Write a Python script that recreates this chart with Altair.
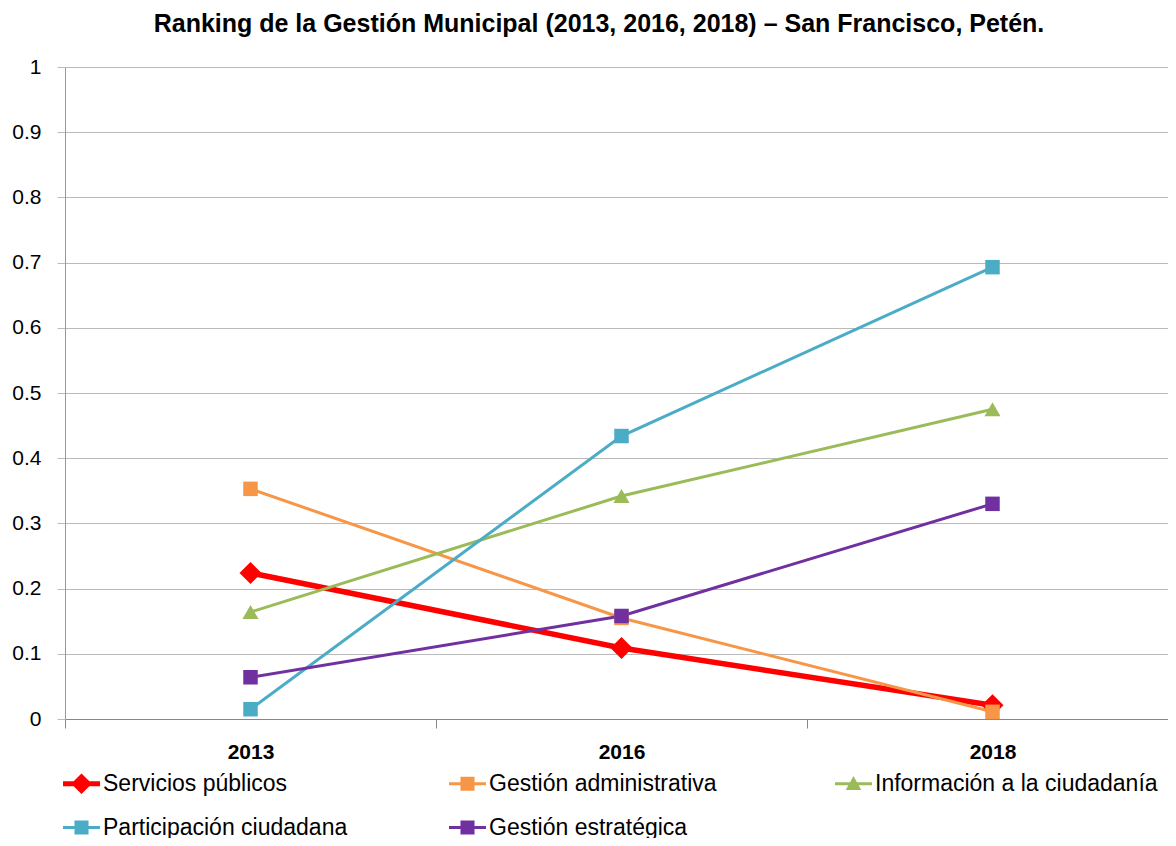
import altair as alt
import pandas as pd

years = ["2013", "2016", "2018"]
series_names = [
    "Servicios públicos",
    "Gestión administrativa",
    "Información a la ciudadanía",
    "Participación ciudadana",
    "Gestión estratégica",
]
servicios = [0.224, 0.109, 0.021]
gestion_adm = [0.353, 0.155, 0.011]
informacion = [0.164, 0.342, 0.475]
participacion = [0.015, 0.434, 0.693]
estrategica = [0.064, 0.158, 0.330]
y_ticks = [0, 0.1, 0.2, 0.3, 0.4, 0.5, 0.6, 0.7, 0.8, 0.9, 1]

colors = ["#FF0000", "#F79646", "#9BBB59", "#4BACC6", "#7030A0"]
markers = ["diamond", "square", "triangle-up", "square", "square"]
line_widths = [5.5, 3, 3, 3, 3]
marker_sizes = [484, 210, 260, 210, 210]
legend_paths = [
    "M-1,-0.14H1V0.14H-1Z M0,-0.56L0.56,0L0,0.56L-0.56,0Z",
    "M-1,-0.08H1V0.08H-1Z M-0.38,-0.38H0.38V0.38H-0.38Z",
    "M-1,-0.08H1V0.08H-1Z M0,-0.42L0.42,0.34L-0.42,0.34Z",
    "M-1,-0.08H1V0.08H-1Z M-0.38,-0.38H0.38V0.38H-0.38Z",
    "M-1,-0.08H1V0.08H-1Z M-0.38,-0.38H0.38V0.38H-0.38Z",
]

values = [servicios, gestion_adm, informacion, participacion, estrategica]
rows = []
for i, (name, vals) in enumerate(zip(series_names, values)):
    for yr, v in zip(years, vals):
        rows.append(dict(year=yr, value=v, series=name, marker=name, key=name, idx=i,
                         sw=line_widths[i], ms=marker_sizes[i]))
df = pd.DataFrame(rows)

FONT = "Liberation Sans"

x_enc = alt.X(
    "year:O",
    scale=alt.Scale(type="band", paddingInner=0, paddingOuter=0, range=[0, 1113]),
    axis=alt.Axis(
        title=None, tickBand="extent", labelAngle=0, labelFontWeight="bold",
        labelFontSize=21, labelFont=FONT, labelColor="#000", tickSize=9,
        tickColor="#888888", domainColor="#888888", labelPadding=13, grid=False,
    ),
)
y_enc = alt.Y(
    "value:Q",
    scale=alt.Scale(domain=[0, 1], nice=False),
    axis=alt.Axis(
        title=None, values=y_ticks, format=".1~f", grid=True, gridColor="#BBBBBB",
        ticks=True, tickSize=8, tickColor="#BBBBBB", domainColor="#999999",
        labelFontSize=21, labelFont=FONT, labelColor="#000", labelPadding=16,
    ),
)

legend = alt.Legend(
    title=None, orient="none", legendX=-2, legendY=698, columns=3,
    direction="horizontal", gridAlign="all", columnPadding=63, rowPadding=13,
    symbolSize=1369, symbolStrokeWidth=0, labelFontSize=23, labelFont=FONT,
    labelColor="#000", labelOffset=3, labelLimit=500, symbolOpacity=1,
)

lines = alt.Chart(df).mark_line().encode(
    x=x_enc, y=y_enc,
    color=alt.Color("series:N", scale=alt.Scale(domain=series_names, range=colors), legend=None),
    strokeWidth=alt.StrokeWidth("sw:Q", scale=None),
    detail="idx:N",
)
points = alt.Chart(df).mark_point(filled=True, opacity=1, strokeWidth=0).encode(
    x=x_enc, y=y_enc,
    color=alt.Color("series:N", scale=alt.Scale(domain=series_names, range=colors), legend=None),
    shape=alt.Shape("marker:N", scale=alt.Scale(domain=series_names, range=markers), legend=None),
    size=alt.Size("ms:Q", scale=None),
)
legend_layer = alt.Chart(df).mark_point(filled=True, opacity=1, size=0).encode(
    x=x_enc, y=y_enc,
    color=alt.Color("key:N", scale=alt.Scale(domain=series_names, range=colors), legend=legend),
    shape=alt.Shape("key:N", scale=alt.Scale(domain=series_names, range=legend_paths),
                    legend=legend),
)

chart = (
    alt.layer(lines, points, legend_layer)
    .resolve_scale(shape="independent", color="independent")
    .resolve_legend(shape="independent", color="independent")
    .properties(
        width=1103,
        height=652,
        padding={"left": 57, "top": 59, "right": 0, "bottom": 119},
        autosize=alt.AutoSizeParams(type="none"),
        title=alt.TitleParams(
            "Ranking de la Gestión Municipal (2013, 2016, 2018) – San Francisco, Petén.",
            fontSize=25, fontWeight="bold", font=FONT, color="#000", anchor="middle",
            dx=-17.5, offset=19,
        ),
    )
    .configure_view(stroke=None)
)

chart.save("out.html", embed_options={"renderer": "svg", "actions": False})
